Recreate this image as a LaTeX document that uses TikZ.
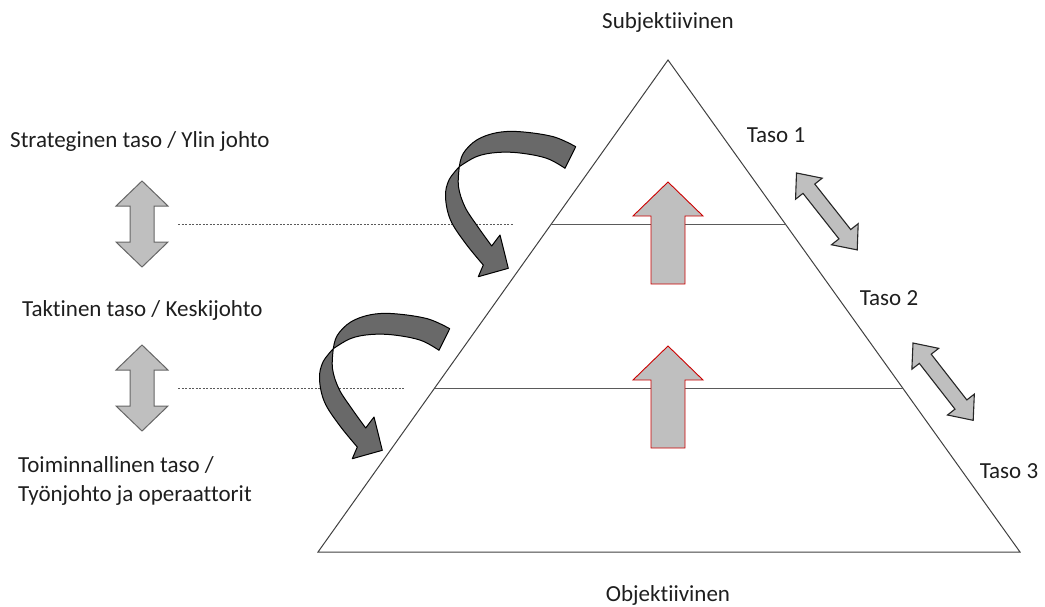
\documentclass[tikz,border=0pt]{standalone}
\usepackage{fontspec}
\setmainfont{Carlito}[Ligatures=NoCommon]
\usetikzlibrary{calc}
\definecolor{lightfill}{RGB}{191,191,191}
\definecolor{darkfill}{RGB}{105,105,105}
\definecolor{edgegray}{RGB}{64,64,64}
\definecolor{levelgray}{RGB}{90,90,90}
\definecolor{labeltext}{RGB}{30,30,30}
\begin{document}
\begin{tikzpicture}[x=1pt,y=-1pt,
  lbl/.style={font=\fontsize{23}{29}\selectfont, text=labeltext, inner sep=0pt},
  pyramid/.style={draw=edgegray, line width=1pt},
  levelline/.style={draw=levelgray, line width=1pt},
  guide/.style={draw=levelgray, line width=0.8pt, dash pattern=on 2pt off 1.5pt},
  upbox/.style={fill=lightfill, draw=red!80!black, line width=0.9pt},
  dblbox/.style={fill=lightfill, draw=black!85, line width=1.1pt},
  dblvert/.style={fill=lightfill, draw=black!60, line width=1pt},
  curvebox/.style={fill=darkfill, draw=black, line width=1pt, line join=round},
  uparrow/.pic={
    \draw[upbox] (0,0) -- (35,34) -- (17,34) -- (17,102) -- (-17,102)
      -- (-17,34) -- (-35,34) -- cycle;
  },
  vertarrow/.pic={
    \draw[dblvert] (0,0) -- (26,25) -- (12,25) -- (12,61) -- (26,61)
      -- (0,86) -- (-26,61) -- (-12,61) -- (-12,25) -- (-26,25) -- cycle;
  },
  diagarrow/.pic={
    \draw[dblbox] (0,0) -- (20,17) -- (20,7.5) -- (78,7.5) -- (78,17)
      -- (98,0) -- (78,-17) -- (78,-7.5) -- (20,-7.5) -- (20,-17) -- cycle;
  },
  twistarrow/.pic={
    % lower band ending in the arrow head
    \filldraw[curvebox]
      plot[smooth, tension=0.6] coordinates {(-40.7,-33.3) (-51,-20) (-54.5,-3.3)
        (-49.5,20) (-34.5,43.3) (-16.7,65)}
      -- (-21.7,76.7) -- (8.3,68.3) -- (0,35) -- (-8.3,46)
      -- plot[smooth, tension=0.6] coordinates {(-8.3,46) (-22,27) (-35,7)
        (-41.5,-13.3) (-40.7,-33.3)}
      -- cycle;
    % upper band starting at the tail
    \filldraw[curvebox]
      plot[smooth, tension=0.6] coordinates {(75.7,-53.3) (53.3,-63.3) (20,-68.3)
        (-3.3,-67.3) (-23.3,-60) (-36.7,-46.7) (-40.7,-33.3)}
      -- plot[smooth, tension=0.6] coordinates {(-40.7,-33.3) (-23.3,-43.5)
        (-3.3,-47.5) (20,-47) (46.7,-41.7) (65,-31.7)}
      -- cycle;
  }]
\useasboundingbox (0,0) rectangle (1045,606);

% pyramid outline and level lines
\coordinate (apex) at (668,60);
\coordinate (baseL) at (318,552);
\coordinate (baseR) at (1020,552);
\coordinate (l1L) at ($(apex)!164/492!(baseL)$);
\coordinate (l1R) at ($(apex)!164/492!(baseR)$);
\coordinate (l2L) at ($(apex)!328/492!(baseL)$);
\coordinate (l2R) at ($(apex)!328/492!(baseR)$);
\draw[pyramid] (apex) -- (baseL) -- (baseR) -- cycle;
\draw[levelline] (l1L) -- (l1R);
\draw[levelline] (l2L) -- (l2R);

% guide lines from the left column
\coordinate (g1a) at (178,224);
\coordinate (g1b) at (513,224);
\coordinate (g2a) at (178,388);
\coordinate (g2b) at (405,388);
\draw[guide] (g1a) -- (g1b);
\draw[guide] (g2a) -- (g2b);

% upward arrows inside the pyramid
\pic at (668,182) {uparrow};
\pic at (668,346) {uparrow};

% two-way arrows of the left column
\pic at (142,181) {vertarrow};
\pic at (142,345) {vertarrow};

% two-way arrows along the right side
\pic[rotate=-51.7] at (796.5,173) {diagarrow};
\pic[rotate=-52.1] at (913,343) {diagarrow};

% twisted arrows from the left
\pic at (500,200) {twistarrow};
\pic at (374,382) {twistarrow};

% labels
\node[lbl] (subj) at (668,22) {Subjektiivinen};
\node[lbl] (obj) at (668,595) {Objektiivinen};
\node[lbl, anchor=west] (strat) at (10,141) {Strateginen taso / Ylin johto};
\node[lbl, anchor=west] (takt) at (22,310) {Taktinen taso / Keskijohto};
\node[lbl, anchor=west, align=left] (toim) at (18,481)
  {Toiminnallinen taso /\\Työnjohto ja operaattorit};
\node[lbl] (t1) at (776,135) {Taso 1};
\node[lbl] (t2) at (889,298) {Taso 2};
\node[lbl] (t3) at (1009,471) {Taso 3};
\end{tikzpicture}
\end{document}
